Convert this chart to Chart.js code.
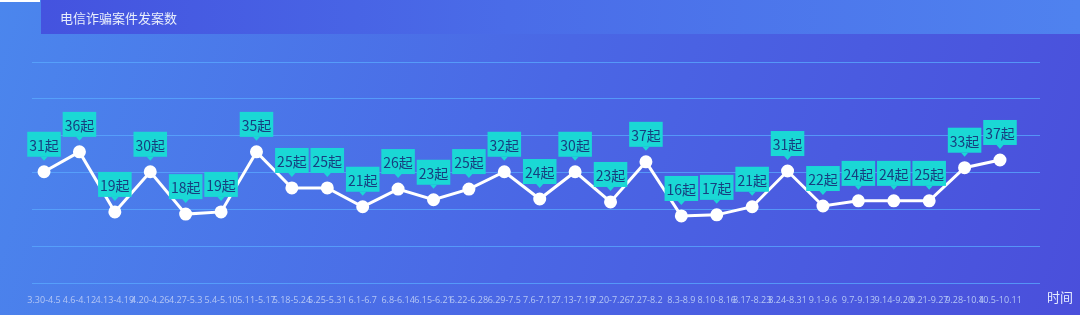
<!DOCTYPE html>
<html>
<head>
<meta charset="utf-8">
<script src="https://cdn.jsdelivr.net/npm/chart.js@4"></script>
<style>
html,body{margin:0;padding:0;background:#4a6ae6;}
#wrap{width:1080px;height:315px;position:relative;}
</style>
</head>
<body>
<div id="wrap"><canvas id="c" width="1080" height="315"></canvas></div>
<script>
const chartTitle = '电信诈骗案件发案数';
const xAxisName = '时间';
const weeks = ['3.30-4.5','4.6-4.12','4.13-4.19','4.20-4.26','4.27-5.3','5.4-5.10','5.11-5.17','5.18-5.24','5.25-5.31','6.1-6.7','6.8-6.14','6.15-6.21','6.22-6.28','6.29-7.5','7.6-7.12','7.13-7.19','7.20-7.26','7.27-8.2','8.3-8.9','8.10-8.16','8.17-8.23','8.24-8.31','9.1-9.6','9.7-9.13','9.14-9.20','9.21-9.27','9.28-10.4','10.5-10.11'];
// case counts shown in the labels
const caseCounts = [31,36,19,30,18,19,35,25,25,21,26,23,25,32,24,30,23,37,16,17,21,31,22,24,24,25,33,37];
// heights of the plotted line (hidden y axis 0-60)
const lineHeights = [30.2,35.6,19.3,30.2,18.7,19.3,35.6,25.8,25.8,20.7,25.5,22.6,25.5,30.2,22.8,30.2,22.0,32.9,18.2,18.5,20.7,30.4,20.9,22.3,22.3,22.3,31.3,33.4];
const unit = '起';

const bgPlugin = {
  id: 'bg',
  beforeDraw(chart) {
    const ctx = chart.ctx;
    ctx.save();
    const g = ctx.createLinearGradient(0, 0, 1080, 315);
    g.addColorStop(0, '#4b86ed');
    g.addColorStop(0.5, '#4a67e5');
    g.addColorStop(1, '#4a4fdb');
    ctx.fillStyle = g;
    ctx.fillRect(0, 0, 1080, 315);
    const t = ctx.createLinearGradient(41, 0, 1080, 0);
    t.addColorStop(0, '#4453df');
    t.addColorStop(0.45, '#4a6ce8');
    t.addColorStop(1, '#4f82ef');
    ctx.fillStyle = t;
    ctx.fillRect(41, 0, 1039, 34);
    ctx.fillStyle = '#ffffff';
    ctx.fillRect(0, 0, 40, 2);
    ctx.fillStyle = '#e8eefc';
    ctx.font = '13px "Noto Sans CJK SC", sans-serif';
    ctx.textBaseline = 'middle';
    ctx.textAlign = 'left';
    ctx.fillText(chartTitle, 60, 18);
    ctx.restore();
  },
  afterDraw(chart) {
    const ctx = chart.ctx;
    ctx.save();
    ctx.fillStyle = '#e6ecff';
    ctx.font = '13px "Noto Sans CJK SC", sans-serif';
    ctx.textBaseline = 'middle';
    ctx.textAlign = 'left';
    ctx.fillText(xAxisName, 1047, 297);
    ctx.restore();
  },
  afterDatasetsDraw(chart) {
    const ctx = chart.ctx;
    const meta = chart.getDatasetMeta(0);
    ctx.save();
    ctx.font = '14px "Noto Sans CJK SC", sans-serif';
    ctx.textAlign = 'center';
    ctx.textBaseline = 'middle';
    meta.data.forEach((pt, i) => {
      const txt = caseCounts[i] + unit;
      const w = ctx.measureText(txt).width + 4;
      const h = 25;
      const bottom = pt.y - 15;
      const top = bottom - h;
      ctx.fillStyle = '#1ad8d5';
      ctx.fillRect(pt.x - w / 2, top, w, h);
      ctx.beginPath();
      ctx.moveTo(pt.x - 3.5, bottom);
      ctx.lineTo(pt.x + 3.5, bottom);
      ctx.lineTo(pt.x, bottom + 4);
      ctx.closePath();
      ctx.fill();
      ctx.fillStyle = '#173f80';
      ctx.fillText(txt, pt.x, top + h / 2 + 1);
    });
    ctx.restore();
  }
};

new Chart(document.getElementById('c'), {
  type: 'line',
  data: {
    datasets: [{
      data: lineHeights.map((v, i) => ({x: i, y: v})),
      borderColor: '#ffffff',
      borderWidth: 3,
      pointBackgroundColor: '#ffffff',
      pointBorderColor: '#ffffff',
      pointRadius: 5,
      tension: 0
    }]
  },
  options: {
    responsive: false,
    animation: false,
    events: [],
    layout: {padding: {left: 32, right: 40, top: 62, bottom: 0}},
    plugins: {legend: {display: false}, tooltip: {enabled: false}},
    scales: {
      x: {
        type: 'linear',
        min: -0.34,
        max: 28.13,
        grid: {display: false},
        border: {display: false},
        afterBuildTicks(scale) {
          scale.ticks = weeks.map((w, i) => ({value: i}));
        },
        afterFit(scale) { scale.height = 32; },
        ticks: {
          autoSkip: false,
          maxRotation: 0,
          padding: 4,
          color: '#b4c6f5',
          font: {size: 9, family: '"Open Sans", "Noto Sans", sans-serif'},
          callback: (v) => weeks[v]
        }
      },
      y: {
        min: 0,
        max: 60,
        ticks: {display: false, stepSize: 10},
        afterFit(scale) { scale.width = 0; },
        border: {display: false},
        grid: {color: 'rgba(90,170,255,0.75)', lineWidth: 1, drawTicks: false}
      }
    }
  },
  plugins: [bgPlugin]
});
</script>
</body>
</html>
